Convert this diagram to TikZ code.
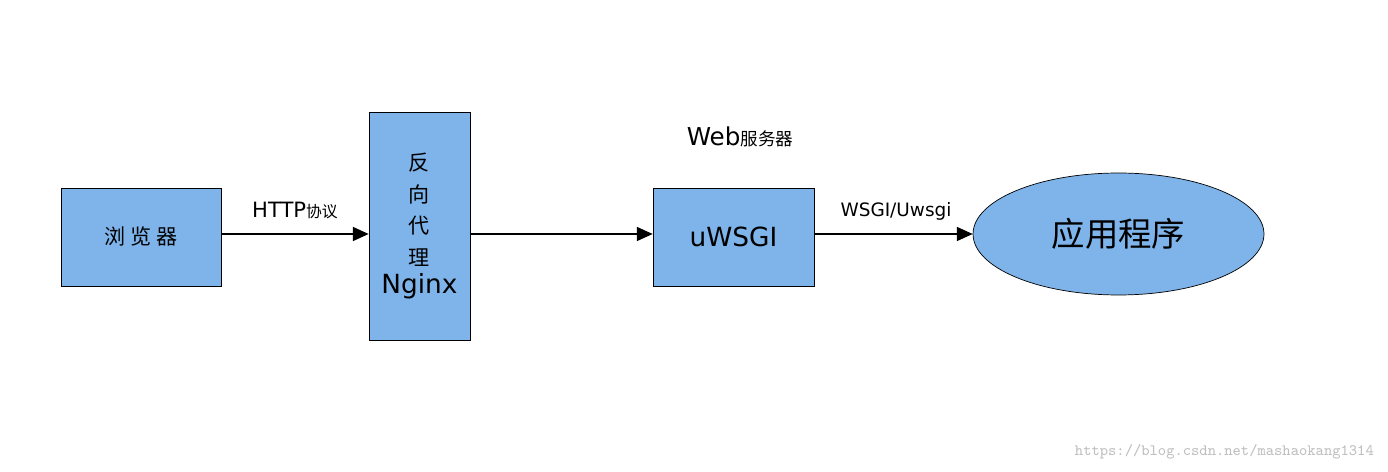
\documentclass[tikz,border=0pt]{standalone}
\usepackage{fontspec}
\setmainfont{DejaVu Sans}
\newfontfamily\cjk{Noto Sans CJK SC}
\usetikzlibrary{shapes.geometric,arrows.meta}
\definecolor{boxblue}{HTML}{7EB4EA}
\begin{document}
\begin{tikzpicture}[x=0.02cm,y=-0.02cm,%
% common options for boxes:
box/.style = {draw, fill=boxblue, align=center, inner sep=0},
% common options for the links:
link/.style = {-{Triangle[length=9pt,width=8pt]}, thick}]
\useasboundingbox (0,0) rectangle (1388,472);
\node[box, minimum width=3.2cm, minimum height=1.96cm, font=\cjk\large] (browser) at (141,237) {浏 览 器};
\node[box, minimum width=2.02cm, minimum height=4.56cm, font=\large] (nginx) at (419.5,226)
  {{\cjk 反}\\[4pt]{\cjk 向}\\[4pt]{\cjk 代}\\[4pt]{\cjk 理}\\[2pt]{\fontsize{15}{18}\selectfont Nginx}};
\node[box, minimum width=3.22cm, minimum height=1.96cm, font=\fontsize{15}{18}\selectfont] (uwsgi) at (733.5,237) {uWSGI};
\node[box, ellipse, minimum width=5.82cm, minimum height=2.44cm, font=\cjk\fontsize{19}{22}\selectfont] (app) at (1118.5,234) {应用程序};
\node[font=\fontsize{12}{14}\selectfont] (http) at (295,211) {HTTP{\cjk\small 协议}};
\node[font=\fontsize{14}{16}\selectfont] (web) at (740,137) {Web{\cjk\normalsize 服务器}};
\node[font=\fontsize{10.5}{12}\selectfont] (wsgi) at (896,211) {WSGI/Uwsgi};
\node[font=\ttfamily\small, text=black!25, anchor=east] (mark) at (1380,452) {https://blog.csdn.net/mashaokang1314};
\draw[link] (browser.east |- 0,234) -- (nginx.west |- 0,234);
\draw[link] (nginx.east |- 0,234) -- (uwsgi.west |- 0,234);
\draw[link] (uwsgi.east |- 0,234) -- (app.west);
\end{tikzpicture}
\end{document}
